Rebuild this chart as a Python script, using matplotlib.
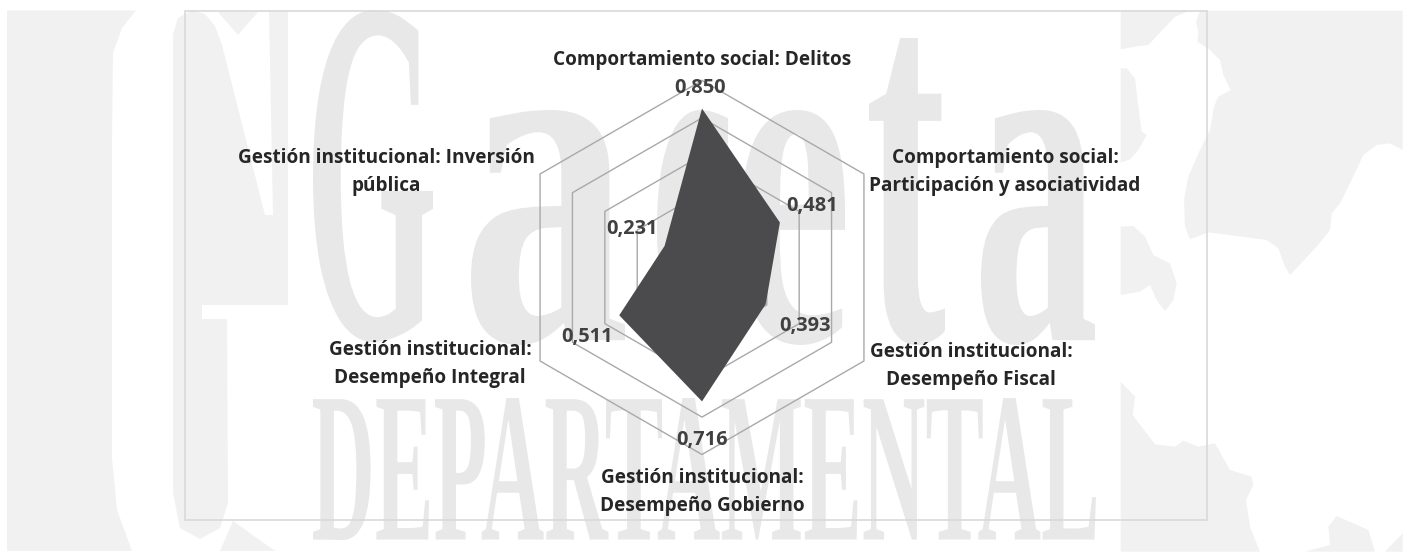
import numpy as np
import matplotlib
matplotlib.use("Agg")
import matplotlib.pyplot as plt
from matplotlib.patches import Polygon, PathPatch
from matplotlib.textpath import TextPath
from matplotlib.font_manager import FontProperties
from matplotlib.transforms import Affine2D

categories = ["Comportamiento social: Delitos",
              "Comportamiento social:\nParticipación y asociatividad",
              "Gestión institucional:\nDesempeño Fiscal",
              "Gestión institucional:\nDesempeño Gobierno",
              "Gestión institucional:\nDesempeño Integral",
              "Gestión institucional: Inversión\npública"]
values = [0.850, 0.481, 0.393, 0.716, 0.511, 0.231]
rings = [0.2, 0.4, 0.6, 0.8, 1.0]

W, H = 1410, 553
cat_pos = [(702, 60), (1005, 172), (971, 366), (702, 492), (430, 364), (386, 172)]
val_pos = [(700, 88), (812, 206), (805, 326), (702, 440), (587, 337), (632, 229)]
CX, CY, R = 702, 267.5, 187

fig = plt.figure(figsize=(W / 100, H / 100), dpi=100, facecolor="white")
bg = fig.add_axes([0, 0, 1, 1], zorder=0)
bg.set_xlim(0, W)
bg.set_ylim(H, 0)
bg.axis("off")

LIGHT = "#f1f1f1"
MID = "#e8e8e8"


def poly(pts, color=LIGHT):
    bg.add_patch(Polygon(pts, closed=True, fc=color, ec="none", zorder=1))


# watermark shapes, background only
poly([(7, 10.5), (136, 10.5), (122, 28), (113, 53), (112, 141), (112, 458), (117, 510), (132, 551), (7, 551)])
poly([(173, 493), (173, 34), (178, 18), (192, 10.5), (205, 14), (215, 26), (222, 45), (265, 215), (273, 215),
      (269, 10.5), (288, 10.5), (288, 305), (202, 305), (202, 319), (227, 319), (228, 503), (220, 528),
      (200, 539), (180, 528)])
poly([(218, 12), (258, 12), (238, 35)])
poly([(233, 521), (275, 551), (220, 551)])


def z8(p):
    return [(1110 + x / 3, y / 3) for x, y in p]


def z9(p):
    return [(1110 + x / 3, 300 + y / 3) for x, y in p]


poly(z8([(270, 32), (878, 32), (878, 450), (840, 430), (800, 435), (760, 465), (720, 550), (690, 610), (665, 640),
         (660, 690), (620, 740), (540, 825), (525, 800), (505, 745), (470, 720), (380, 708), (295, 697), (240, 718),
         (225, 680), (222, 600), (235, 530), (270, 450), (300, 390), (312, 320), (325, 290), (362, 270), (340, 225),
         (330, 180), (300, 150), (262, 125), (265, 95), (258, 65)]))
poly(z8([(32, 32), (240, 32), (195, 50), (115, 135), (75, 140), (32, 148)]))
poly(z8([(32, 205), (50, 205), (75, 235), (85, 320), (95, 395), (110, 405), (85, 450), (60, 478), (32, 488)]))
poly(z8([(32, 680), (70, 678), (105, 710), (130, 765), (180, 790), (200, 850), (190, 900), (165, 933), (140, 900),
         (120, 855), (90, 875), (32, 885)]))
poly(z9([(32, 245), (75, 290), (68, 345), (135, 433), (195, 440), (220, 422), (265, 440), (315, 430), (360, 510),
         (425, 530), (430, 555), (408, 600), (420, 680), (450, 755), (32, 755)]))
poly(z9([(655, 680), (680, 648), (775, 690), (795, 755), (585, 755), (660, 735)]))
poly(z9([(825, 755), (878, 700), (878, 755)]))

serif = FontProperties(family="Liberation Serif", weight="bold")


def stretched(s, x0, y0, x1, y1, color=MID):
    tp = TextPath((0, 0), s, size=100, prop=serif)
    bb = tp.get_extents()
    tr = (Affine2D().translate(-bb.x0, -bb.y0)
          .scale((x1 - x0) / bb.width, -(y1 - y0) / bb.height)
          .translate(x0, y1))
    bg.add_patch(PathPatch(tr.transform_path(tp), fc=color, ec="none", zorder=2))


for s, x0, y0, x1, y1 in [("G", 313, 10, 433, 342), ("a", 471, 110, 625, 345), ("c", 657, 110, 730, 345),
                          ("e", 741, 110, 845, 345), ("t", 869, 38, 945, 345), ("a", 981, 110, 1095, 345),
                          ("DEPARTAMENTAL", 313, 398, 1096, 540)]:
    stretched(s, x0, y0, x1, y1)

# chart frame
bg.add_patch(plt.Rectangle((185, 10.5), 1022, 509.5, fc="none", ec="#d9d9d9", lw=1.2, zorder=3))

# radar
ax = fig.add_axes([(CX - R) / W, 1 - (CY + R) / H, 2 * R / W, 2 * R / H], projection="polar", zorder=1)
ax.patch.set_alpha(0)
ax.set_theta_zero_location("N")
ax.set_theta_direction(-1)
ax.set_ylim(0, 1)
ax.grid(False)
ax.set_xticks([])
ax.set_yticks([])
ax.spines["polar"].set_visible(False)
theta = np.deg2rad(np.arange(len(values)) * 360 / len(values))
closed = np.append(theta, theta[0])
for r in rings:
    ax.plot(closed, [r] * len(closed), color="#a9a9a9", lw=1.0, clip_on=False, zorder=1)
ax.fill(closed, values + values[:1], color="#4b4b4d", lw=0, zorder=2)

for label, (x, y) in zip(categories, cat_pos):
    fig.text(x, y, label, transform=bg.transData, ha="center", va="center", family="Open Sans", weight="bold",
             fontsize=13.65, color="#262626", linespacing=1.57, zorder=5)
for v, (x, y) in zip(values, val_pos):
    fig.text(x, y, f"{v:.3f}".replace(".", ","), transform=bg.transData, ha="center", va="center",
             family="Open Sans", weight="bold", fontsize=14.4, color="#404040", zorder=5)

fig.savefig("out.png", dpi=100)
